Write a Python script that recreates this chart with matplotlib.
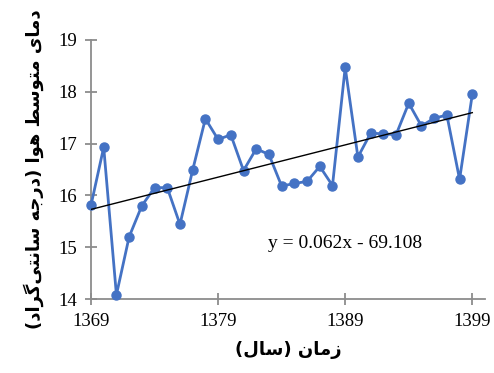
import numpy as np
import matplotlib
matplotlib.use("Agg")
import matplotlib.pyplot as plt

# yearly mean air temperature (Iranian calendar years)
years = np.arange(1369, 1400)
temps = [15.81, 16.93, 14.08, 15.20, 15.80, 16.15, 16.15, 15.44, 16.49, 17.48,
         17.08, 17.17, 16.48, 16.90, 16.79, 16.18, 16.23, 16.27, 16.56, 16.19,
         18.47, 16.74, 17.20, 17.19, 17.17, 17.78, 17.34, 17.49, 17.55, 16.31,
         17.95]
xticks = [1369, 1379, 1389, 1399]
yticks = [14, 15, 16, 17, 18, 19]
eq_text = "y = 0.062x - 69.108"

# Persian labels, pre-shaped (presentation forms) in visual order,
# since matplotlib does no Arabic shaping or bidi
ylabel = ("(" + "\uFEA9\uFE8D\uFEAE\uFB94" + "\uFEF0\uFE98\uFEE7\uFE8E\uFEB3"
          + " " + "\uFEEA\uFE9F\uFEAD\uFEA9" + ")"
          + " " + "\uFE8D\uFEEE\uFEEB"
          + " " + "\uFEC2\uFEB3\uFEEE\uFE98\uFEE3"
          + " " + "\uFEEF\uFE8E\uFEE3\uFEA9")
xlabel = ("(" + "\uFEDD\uFE8E\uFEB3" + ")" + " " + "\uFEE5\uFE8E\uFEE3\uFEAF")

serif = "Liberation Serif"
blue = "#4472C4"
grey = "#8c8c8c"

fig = plt.figure(figsize=(4.94, 3.73), dpi=100)
ax = fig.add_axes([91 / 494, 1 - 299 / 373, (485 - 91) / 494, (299 - 40) / 373])

ax.plot(years, temps, color=blue, lw=2, marker="o", ms=6.5, zorder=3, clip_on=False)

k, b = np.polyfit(years, temps, 1)
ax.plot(years, k * years + b, color="black", lw=1, zorder=4)
ax.text(1389, 15.08, eq_text, family=serif, fontsize=14, ha="center", va="center")

ax.set_xlim(1369, 1400)
ax.set_ylim(14, 19)
ax.set_xticks(xticks)
ax.set_yticks(yticks)
for s in ["top", "right"]:
    ax.spines[s].set_visible(False)
for s in ["left", "bottom"]:
    ax.spines[s].set_color(grey)
    ax.spines[s].set_linewidth(1.3)
ax.tick_params(direction="inout", length=8, width=1.3, color=grey,
               labelsize=13.5, pad=6)
for lab in ax.get_xticklabels() + ax.get_yticklabels():
    lab.set_family(serif)

ax.set_xlabel(xlabel, family="DejaVu Sans", fontweight="bold", fontsize=13, labelpad=8)
ax.set_ylabel(ylabel, family="DejaVu Sans", fontweight="bold", fontsize=13, labelpad=10)

fig.savefig("out.png", dpi=100)
